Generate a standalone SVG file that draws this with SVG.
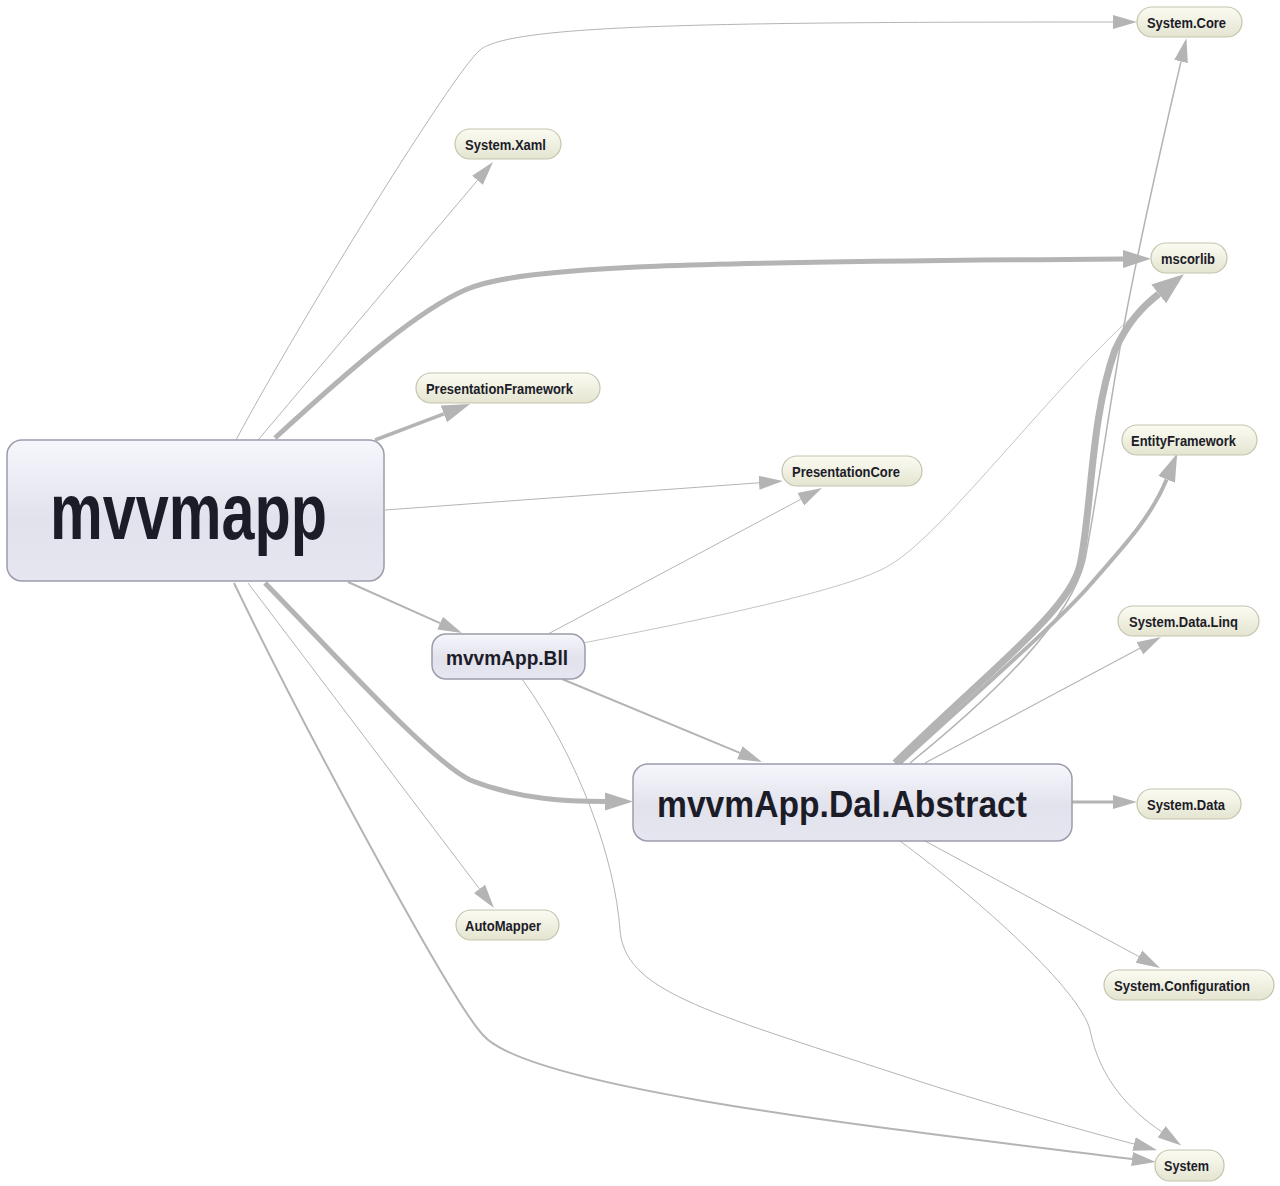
<svg xmlns="http://www.w3.org/2000/svg" width="1280" height="1186" viewBox="0 0 1280 1186">
<defs>
<linearGradient id="gp" x1="0" y1="0" x2="0" y2="1">
<stop offset="0" stop-color="#fbfbf2"/><stop offset="0.5" stop-color="#f0f0e2"/><stop offset="1" stop-color="#e4e4d0"/>
</linearGradient>
<linearGradient id="gb" x1="0" y1="0" x2="0" y2="1">
<stop offset="0" stop-color="#f6f6fd"/><stop offset="0.55" stop-color="#e2e2ec"/><stop offset="1" stop-color="#e6e6f0"/>
</linearGradient>
<marker id="a" markerUnits="userSpaceOnUse" viewBox="0 -8 26 16" markerWidth="26" markerHeight="16" refX="0" refY="0" orient="auto"><path d="M0,-7 L24,0 L0,7 z" fill="#b4b4b4"/></marker>
<marker id="b" markerUnits="userSpaceOnUse" viewBox="0 -10 30 20" markerWidth="30" markerHeight="20" refX="0" refY="0" orient="auto"><path d="M0,-9 L28,0 L0,9 z" fill="#b4b4b4"/></marker>
<marker id="c" markerUnits="userSpaceOnUse" viewBox="0 -13 34 26" markerWidth="34" markerHeight="26" refX="0" refY="0" orient="auto"><path d="M0,-12 L32,0 L0,12 z" fill="#b4b4b4"/></marker>
</defs>
<style>
.e{fill:none;stroke:#b4b4b4}
.pill{fill:url(#gp);stroke:#c4c4ae;stroke-width:1.2}
.big{fill:url(#gb);stroke:#9c9cac;stroke-width:1.5}
.lbl{font-family:"Liberation Sans",Arial,sans-serif;font-weight:bold;fill:#1c1c28}
.s{font-size:14px}
</style>
<rect width="1280" height="1186" fill="#ffffff"/>
<g id="edges">
<path class="e" stroke-width="1" d="M236,440 C300,320 455,70 480,50 C510,25 700,22 1113,22" marker-end="url(#a)"/>
<path class="e" stroke-width="1" d="M258,440 L477.5,180.3" marker-end="url(#a)"/>
<path class="e" stroke-width="5" d="M275,438 C360,360 420,310 465,290 C520,265 700,262 1123,259" marker-end="url(#b)"/>
<path class="e" stroke-width="3.5" d="M375,440 L443.8,413.9" marker-end="url(#b)"/>
<path class="e" stroke-width="1" d="M385,510 L759,482.8" marker-end="url(#a)"/>
<path class="e" stroke-width="2" d="M348,582 L440,623.2" marker-end="url(#a)"/>
<path class="e" stroke-width="5" d="M265,583 C340,660 430,760 470,780 C520,800 570,801.5 605,801.5" marker-end="url(#b)"/>
<path class="e" stroke-width="1" d="M248,583 L479.5,888.9" marker-end="url(#a)"/>
<path class="e" stroke-width="2" d="M234,583 C300,720 450,1000 483,1035 C530,1090 900,1130 1132,1159" marker-end="url(#a)"/>
<path class="e" stroke-width="1" d="M548,634 L800.8,499.3" marker-end="url(#a)"/>
<path class="e" stroke-width="0.8" d="M583,643 C700,620 850,590 890,565 C950,530 1080,350 1165,290"/>
<path class="e" stroke-width="2" d="M562,679 L739.8,752.8" marker-end="url(#a)"/>
<path class="e" stroke-width="1" d="M522,679 C580,760 615,860 620,930 C625,990 700,1010 900,1075 C1000,1108 1100,1135 1134,1144" marker-end="url(#a)"/>
<path class="e" stroke-width="1.5" d="M910,763 C1000,690 1070,620 1085,560 C1100,480 1110,400 1125,320 C1140,240 1165,130 1181,61.5" marker-end="url(#a)"/>
<path class="e" stroke-width="7" d="M895,763 C990,670 1070,610 1080,565 C1092,510 1090,420 1115,350 C1128,322 1142,307 1158.7,293.9" marker-end="url(#c)"/>
<path class="e" stroke-width="4" d="M900,763 C980,690 1060,620 1090,585 C1120,550 1150,520 1166.6,479.4" marker-end="url(#b)"/>
<path class="e" stroke-width="1.2" d="M925,763 L1139.8,648.3" marker-end="url(#a)"/>
<path class="e" stroke-width="3" d="M1072,802 L1113,802" marker-end="url(#a)"/>
<path class="e" stroke-width="1" d="M925,841 L1138.9,956.6" marker-end="url(#a)"/>
<path class="e" stroke-width="1" d="M900,841 C980,900 1080,990 1090,1030 C1100,1080 1130,1110 1161.6,1131.8" marker-end="url(#a)"/>
</g>
<g id="n-mvvmapp"><rect class="big" x="7" y="440" width="377" height="141" rx="15"/><text class="lbl" x="50" y="539" font-size="79" textLength="277" lengthAdjust="spacingAndGlyphs">mvvmapp</text></g>
<g id="n-bll"><rect class="big" x="432" y="634" width="153" height="45" rx="14"/><text class="lbl" x="446" y="665" font-size="21" textLength="122" lengthAdjust="spacingAndGlyphs">mvvmApp.Bll</text></g>
<g id="n-dal"><rect class="big" x="633" y="764" width="439" height="77" rx="15"/><text class="lbl" x="657" y="817" font-size="37" textLength="370" lengthAdjust="spacingAndGlyphs">mvvmApp.Dal.Abstract</text></g>
<g id="n-systemcore"><rect class="pill" x="1137" y="7" width="105" height="30" rx="15"/><text class="lbl s" x="1147" y="27.5" textLength="79" lengthAdjust="spacingAndGlyphs">System.Core</text></g>
<g id="n-systemxaml"><rect class="pill" x="455" y="129" width="106" height="30" rx="15"/><text class="lbl s" x="465" y="149.5" textLength="81" lengthAdjust="spacingAndGlyphs">System.Xaml</text></g>
<g id="n-mscorlib"><rect class="pill" x="1151" y="243" width="76" height="30" rx="15"/><text class="lbl s" x="1161" y="263.5" textLength="54" lengthAdjust="spacingAndGlyphs">mscorlib</text></g>
<g id="n-pf"><rect class="pill" x="416" y="373" width="184" height="30" rx="15"/><text class="lbl s" x="426" y="393.5" textLength="147" lengthAdjust="spacingAndGlyphs">PresentationFramework</text></g>
<g id="n-ef"><rect class="pill" x="1122" y="425" width="135" height="30" rx="15"/><text class="lbl s" x="1131" y="445.5" textLength="105" lengthAdjust="spacingAndGlyphs">EntityFramework</text></g>
<g id="n-pc"><rect class="pill" x="782" y="456" width="140" height="30" rx="15"/><text class="lbl s" x="792" y="476.5" textLength="108" lengthAdjust="spacingAndGlyphs">PresentationCore</text></g>
<g id="n-sdl"><rect class="pill" x="1118" y="606" width="141" height="30" rx="15"/><text class="lbl s" x="1129" y="626.5" textLength="109" lengthAdjust="spacingAndGlyphs">System.Data.Linq</text></g>
<g id="n-sd"><rect class="pill" x="1137" y="789" width="104" height="30" rx="15"/><text class="lbl s" x="1147" y="809.5" textLength="78" lengthAdjust="spacingAndGlyphs">System.Data</text></g>
<g id="n-automapper"><rect class="pill" x="456" y="910" width="103" height="30" rx="15"/><text class="lbl s" x="465" y="930.5" textLength="76" lengthAdjust="spacingAndGlyphs">AutoMapper</text></g>
<g id="n-sc"><rect class="pill" x="1104" y="970" width="170" height="30" rx="15"/><text class="lbl s" x="1114" y="990.5" textLength="136" lengthAdjust="spacingAndGlyphs">System.Configuration</text></g>
<g id="n-system"><rect class="pill" x="1155" y="1150" width="69" height="31" rx="15"/><text class="lbl s" x="1164" y="1171" textLength="45" lengthAdjust="spacingAndGlyphs">System</text></g>
</svg>
